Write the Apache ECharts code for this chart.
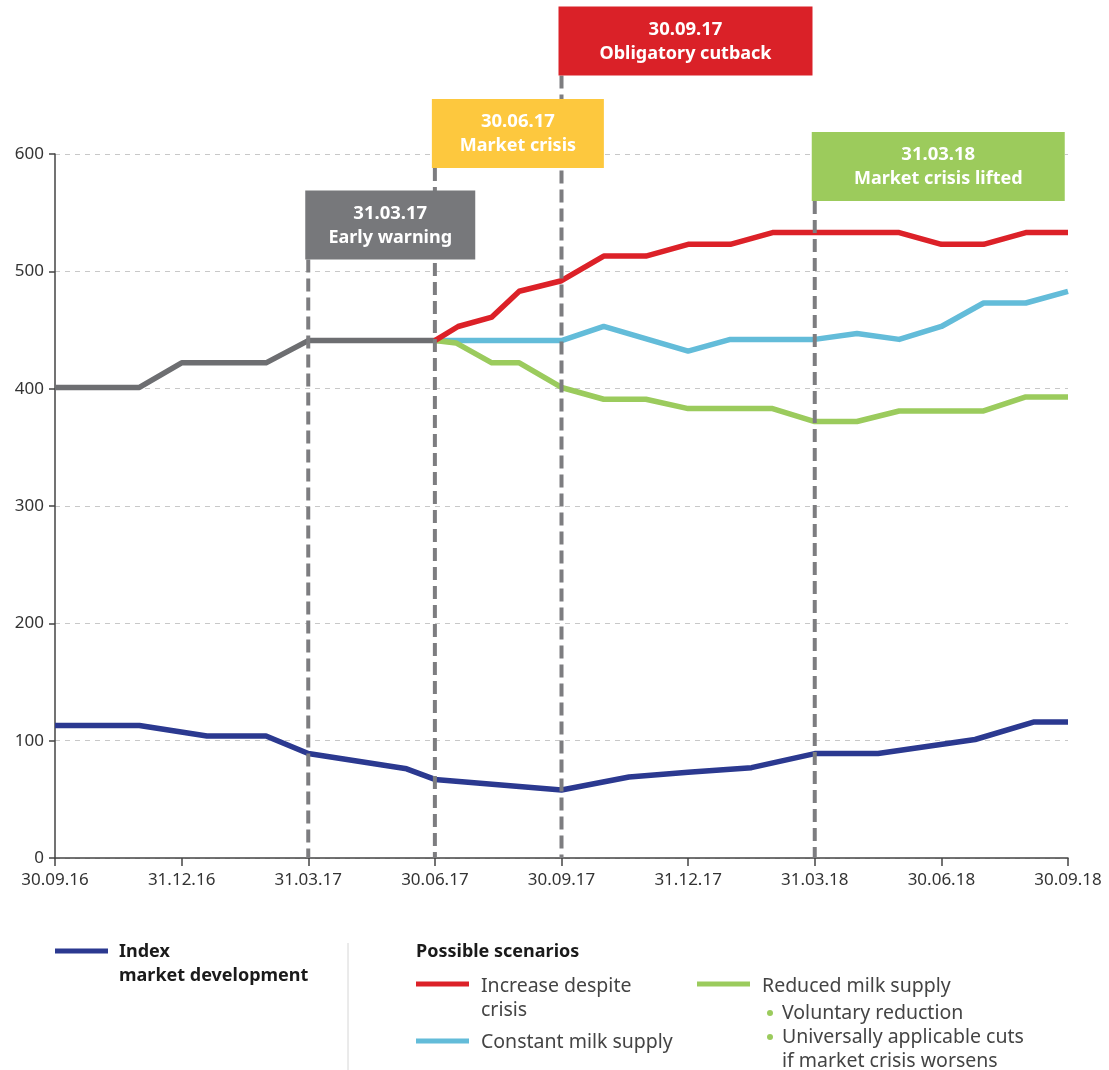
<!DOCTYPE html>
<html>
<head>
<meta charset="utf-8">
<title>Milk market scenarios</title>
<script src="https://cdn.jsdelivr.net/npm/echarts@6/dist/echarts.min.js"></script>
<style>
  html, body { margin: 0; padding: 0; background: #fff; }
  #chart { width: 1109px; height: 1070px; }
</style>
</head>
<body>
<div id="chart"></div>
<script>
// x values are months after 30.09.16
const xTickLabels = ['30.09.16', '31.12.16', '31.03.17', '30.06.17', '30.09.17', '31.12.17', '31.03.18', '30.06.18', '30.09.18'];

const historyMonths = [0, 2, 3, 5, 6, 9];
const historyValues = [401, 401, 422, 422, 441, 441];

const increaseMonths = [9, 9.55, 10.35, 11, 12, 13, 14, 15, 16, 17, 20, 21, 22, 23, 24];
const increaseValues = [441, 453, 461, 483, 492, 513, 513, 523, 523, 533, 533, 523, 523, 533, 533];

const constantMonths = [9, 12, 13, 15, 16, 18, 19, 20, 21, 22, 23, 24];
const constantValues = [441, 441, 453, 432, 442, 442, 447, 442, 453, 473, 473, 483];

const reducedMonths = [9, 9.5, 10.35, 11, 12, 13, 14, 15, 17, 18, 19, 20, 22, 23, 24];
const reducedValues = [441, 439, 422, 422, 401, 391, 391, 383, 383, 372, 372, 381, 381, 393, 393];

const indexMonths = [0, 2, 3.6, 5, 6, 8.33, 9, 12, 13.6, 15, 16.5, 18, 19.5, 21.8, 23.2, 24];
const indexValues = [113, 113, 104, 104, 89, 76, 67, 58, 69, 73, 77, 89, 89, 101, 116, 116];

// event markers
const markerMonths = [6, 9, 12, 18];
const markerDates = ['31.03.17', '30.06.17', '30.09.17', '31.03.18'];
const markerTitles = ['Early warning', 'Market crisis', 'Obligatory cutback', 'Market crisis lifted'];

const FONT = '"Noto Sans", sans-serif';

function pairs(xs, ys) {
  return xs.map((x, i) => [x, ys[i]]);
}

function lineSeries(name, xs, ys, color) {
  return {
    name: name,
    type: 'line',
    data: pairs(xs, ys),
    showSymbol: false,
    symbol: 'none',
    silent: true,
    lineStyle: { color: color, width: 5.5, join: 'round' }
  };
}

const chart = echarts.init(document.getElementById('chart'));

const option = {
  animation: false,
  backgroundColor: '#fff',
  grid: { left: 55, right: 41, top: 154, bottom: 212 },
  xAxis: {
    type: 'value',
    min: 0,
    max: 24,
    interval: 3,
    axisLine: { lineStyle: { color: '#444', width: 1.5 } },
    axisTick: { length: 8, lineStyle: { color: '#444', width: 1.5 } },
    axisLabel: {
      color: '#333',
      fontFamily: FONT,
      fontSize: 17,
      margin: 14,
      formatter: v => xTickLabels[Math.round(v / 3)]
    },
    splitLine: { show: false }
  },
  yAxis: {
    type: 'value',
    min: 0,
    max: 600,
    interval: 100,
    axisLine: { show: true, lineStyle: { color: '#444', width: 1.5 } },
    axisTick: { show: true, length: 6, lineStyle: { color: '#444', width: 1.5 } },
    axisLabel: { color: '#333', fontFamily: FONT, fontSize: 17, margin: 11 },
    splitLine: { lineStyle: { color: '#c8c8c8', type: [5, 5], width: 1 } }
  },
  series: [
    lineSeries('Index market development', indexMonths, indexValues, '#2b3990'),
    lineSeries('History', historyMonths, historyValues, '#6d6e71'),
    lineSeries('Constant milk supply', constantMonths, constantValues, '#63bcd9'),
    lineSeries('Reduced milk supply', reducedMonths, reducedValues, '#9bcb5d'),
    lineSeries('Increase despite crisis', increaseMonths, increaseValues, '#dc2128')
  ]
};

chart.setOption(option);

// annotation boxes + dashed lines, positioned through the grid's scales
const boxColors = ['#77787b', '#fdc83e', '#da2128', '#9ccb5c'];
const boxBottoms = [510, 588, 667, 560];
const boxWidths = [170, 172, 254, 253];
const BOX_H = 69;

const graphics = [];
markerMonths.forEach((m, i) => {
  const base = chart.convertToPixel({ gridIndex: 0 }, [m, 0]);
  const top = chart.convertToPixel({ gridIndex: 0 }, [m, boxBottoms[i]]);
  const bx = base[0] - 3;
  const by = top[1] - BOX_H;
  graphics.push({
    type: 'line',
    z: 100,
    shape: { x1: base[0], y1: top[1], x2: base[0], y2: base[1] },
    style: { stroke: '#7d7d80', lineWidth: 4, lineDash: [13, 6] }
  });
  graphics.push({
    type: 'rect',
    z: 101,
    shape: { x: bx, y: by, width: boxWidths[i], height: BOX_H },
    style: { fill: boxColors[i] }
  });
  graphics.push({
    type: 'text',
    z: 102,
    x: bx + boxWidths[i] / 2,
    y: by + 23,
    style: { text: markerDates[i], fill: '#fff', font: 'bold 18.5px ' + FONT, align: 'center', verticalAlign: 'middle' }
  });
  graphics.push({
    type: 'text',
    z: 102,
    x: bx + boxWidths[i] / 2,
    y: by + 47,
    style: { text: markerTitles[i], fill: '#fff', font: 'bold 18px ' + FONT, align: 'center', verticalAlign: 'middle' }
  });
});

// legend (drawn by hand, the layout is not a standard legend)
function swatch(x, y, color) {
  return { type: 'rect', shape: { x: x, y: y - 2.5, width: 53, height: 5 }, style: { fill: color } };
}
function label(x, y, text, bold) {
  return {
    type: 'text', x: x, y: y,
    style: {
      text: text, fill: bold ? '#1a1a1a' : '#444',
      font: bold ? 'bold 18px ' + FONT : '19.5px ' + FONT,
      align: 'left', verticalAlign: 'middle'
    }
  };
}
function bullet(x, y) {
  return { type: 'circle', shape: { cx: x, cy: y, r: 3 }, style: { fill: '#9bcb5d' } };
}

graphics.push(
  swatch(55, 951, '#2b3990'),
  label(119, 952, 'Index', true),
  label(119, 976, 'market development', true),
  { type: 'line', shape: { x1: 348, y1: 943, x2: 348, y2: 1070 }, style: { stroke: '#d6d6d6', lineWidth: 1 } },
  label(416, 952, 'Possible scenarios', true),
  swatch(416, 984, '#dc2128'),
  label(481, 986, 'Increase despite', false),
  label(481, 1010, 'crisis', false),
  swatch(416, 1041, '#63bcd9'),
  label(481, 1042, 'Constant milk supply', false),
  swatch(697, 984, '#9bcb5d'),
  label(762, 986, 'Reduced milk supply', false),
  bullet(770, 1013),
  label(782, 1013, 'Voluntary reduction', false),
  bullet(770, 1037),
  label(782, 1037, 'Universally applicable cuts', false),
  label(782, 1061, 'if market crisis worsens', false)
);

chart.setOption({ graphic: graphics });
</script>
</body>
</html>
